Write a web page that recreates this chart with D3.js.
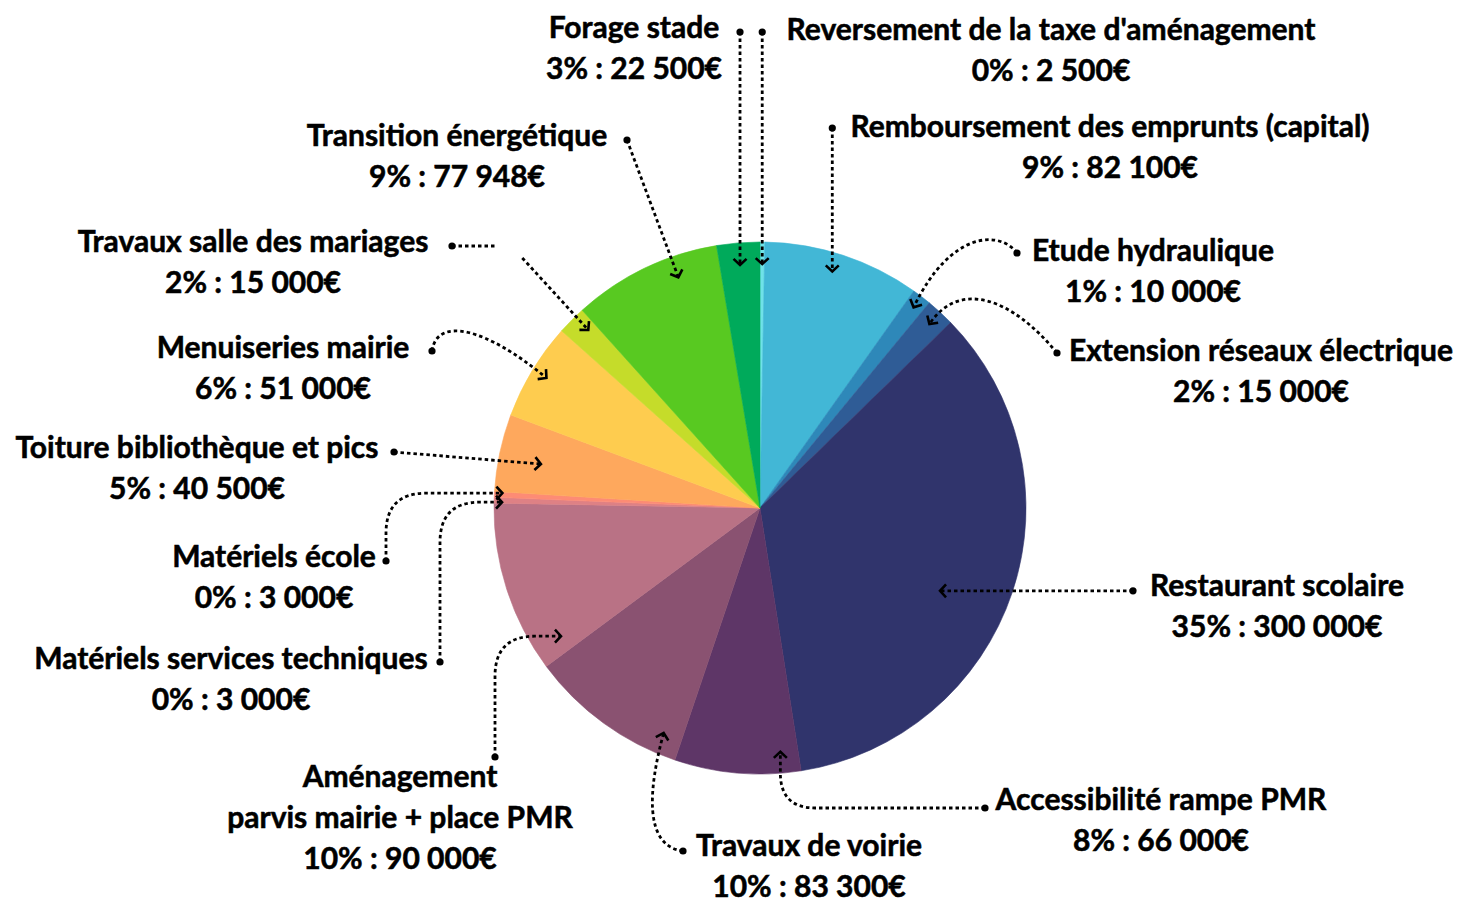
<!DOCTYPE html>
<html>
<head>
<meta charset="utf-8">
<script src="https://cdn.jsdelivr.net/npm/d3@7"></script>
<style>
  body { margin: 0; background: #fff; }
  text { font-family: Lato, "Open Sans", sans-serif; font-weight: 700; font-size: 30px; fill: #000; stroke: #000; stroke-width: 0.55px; }
</style>
</head>
<body>
<div id="chart"></div>
<script>
// budget lines, clockwise from 12 o'clock
const names = [
  "Reversement de la taxe d'aménagement",
  "Remboursement des emprunts (capital)",
  "Etude hydraulique",
  "Extension réseaux électrique",
  "Restaurant scolaire",
  "Accessibilité rampe PMR",
  "Travaux de voirie",
  "Aménagement\nparvis mairie + place PMR",
  "Matériels services techniques",
  "Matériels école",
  "Toiture bibliothèque et pics",
  "Menuiseries mairie",
  "Travaux salle des mariages",
  "Transition énergétique",
  "Forage stade"
]
const amounts = [2500, 82100, 10000, 15000, 300000, 66000, 83300, 90000, 3000, 3000, 40500, 51000, 15000, 77948, 22500]
const percents = ["0%", "9%", "1%", "2%", "35%", "8%", "10%", "10%", "0%", "0%", "5%", "6%", "2%", "9%", "3%"]
const colors = [
  "#6fe2e8", "#42b7d6", "#2e88b9", "#2f5c96", "#30346c", "#5e3667", "#8a5271", "#b97285",
  "#de8185", "#fd8b75", "#fea85d", "#fecc4f", "#c5dc2a", "#58c921", "#00aa5b"
]

const width = 1460, height = 902
const cx = 760, cy = 508, radius = 266
const lineGap = 41

// label anchor: centre x, first baseline
const labelPos = [
  [1051, 40], [1110, 137], [1153, 261], [1261, 361], [1277, 596], [1161, 810], [809, 856],
  [400, 787], [231, 669], [274, 567], [197, 458], [283, 358], [253, 252], [457, 146], [634, 38]
]

// leader lines: where the arrow lands inside the slice (frac of angle, frac of radius) and how it's drawn
const leaders = [
  { kind: "v", frac: 0.5, r: 0.917, dotY: 32 },
  { kind: "v", frac: 0.465, r: 0.93, dotY: 128 },
  { kind: "curve", frac: 0.5, r: 0.95, dot: [1017, 253], c1: [-17, -23], c2: [37, -77] },
  { kind: "curve", frac: 0.5, r: 0.94, dot: [1057, 353], c1: [-45, -55], c2: [30, -45] },
  { kind: "h", frac: 0.55, r: 0.745, dotX: 1133 },
  { kind: "hv", frac: 0.15, r: 0.92, dot: [985, 808], rad: 35 },
  { kind: "curve", frac: 0.13, r: 0.92, dot: [683, 851], c1: [-40, -5], c2: [-15, 55] },
  { kind: "vh", frac: 0.1, r: 0.89, dot: [495, 757], rad: 40 },
  { kind: "vh", frac: 0.2, r: 0.97, dot: [440, 662], rad: 40 },
  { kind: "vh", frac: 0.8, r: 0.97, dot: [386, 561], rad: 40 },
  { kind: "line", frac: 0.46, r: 0.84, dot: [394, 452] },
  { kind: "curve", frac: 0.51, r: 0.94, dot: [432, 351], c1: [5, -35], c2: [-60, -50] },
  { kind: "split", frac: 0.68, r: 0.93, dot: [452, 246], len: 45, from: [-66, -72] },
  { kind: "line", frac: 0.69, r: 0.92, dot: [627, 140] },
  { kind: "v", frac: 0.5, r: 0.917, dotY: 32 }
]

const fr = d3.formatLocale({ decimal: ",", thousands: " ", grouping: [3], currency: ["", "€"] })
const fmt = fr.format(",d")

const data = names.map((name, i) => ({ name, amount: amounts[i], pct: percents[i], color: colors[i] }))

const svg = d3.select("#chart").append("svg")
  .attr("width", width)
  .attr("height", height)

const pie = d3.pie().sort(null).value(d => d.amount)
const arc = d3.arc().innerRadius(0).outerRadius(radius)
const arcs = pie(data)

svg.append("g")
  .attr("transform", `translate(${cx},${cy})`)
  .selectAll("path")
  .data(arcs)
  .join("path")
  .attr("d", arc)
  .attr("fill", d => d.data.color)
  .attr("stroke", d => d.data.color)
  .attr("stroke-width", 0.6)

// open chevron arrowhead
svg.append("defs").append("marker")
  .attr("id", "chev")
  .attr("markerUnits", "userSpaceOnUse")
  .attr("viewBox", "-9 -9 12 18")
  .attr("markerWidth", 12)
  .attr("markerHeight", 18)
  .attr("refX", 0)
  .attr("refY", 0)
  .attr("orient", "auto")
  .append("path")
  .attr("d", "M-6,-6.5L0,0L-6,6.5")
  .attr("fill", "none")
  .attr("stroke", "#000")
  .attr("stroke-width", 2.6)

function tipOf(a, l) {
  const ang = a.startAngle + (a.endAngle - a.startAngle) * l.frac
  const r = radius * l.r
  return [cx + r * Math.sin(ang), cy - r * Math.cos(ang)]
}

function leaderPaths(a, l) {
  const t = tipOf(a, l)
  const p = d3.path()
  let dot
  if (l.kind === "v") {
    dot = [t[0], l.dotY]
    p.moveTo(dot[0], dot[1]); p.lineTo(t[0], t[1])
  } else if (l.kind === "h") {
    dot = [l.dotX, t[1]]
    p.moveTo(dot[0], dot[1]); p.lineTo(t[0], t[1])
  } else if (l.kind === "line") {
    dot = l.dot
    p.moveTo(dot[0], dot[1]); p.lineTo(t[0], t[1])
  } else if (l.kind === "curve") {
    dot = l.dot
    p.moveTo(dot[0], dot[1])
    p.bezierCurveTo(dot[0] + l.c1[0], dot[1] + l.c1[1], t[0] + l.c2[0], t[1] + l.c2[1], t[0], t[1])
  } else if (l.kind === "vh") {
    dot = l.dot
    p.moveTo(dot[0], dot[1])
    p.lineTo(dot[0], t[1] + l.rad)
    p.quadraticCurveTo(dot[0], t[1], dot[0] + l.rad, t[1])
    p.lineTo(t[0], t[1])
  } else if (l.kind === "hv") {
    dot = l.dot
    p.moveTo(dot[0], dot[1])
    p.lineTo(t[0] + l.rad, dot[1])
    p.quadraticCurveTo(t[0], dot[1], t[0], dot[1] - l.rad)
    p.lineTo(t[0], t[1])
  } else if (l.kind === "split") {
    dot = l.dot
    const stub = d3.path()
    stub.moveTo(dot[0], dot[1]); stub.lineTo(dot[0] + l.len, dot[1])
    p.moveTo(t[0] + l.from[0], t[1] + l.from[1]); p.lineTo(t[0], t[1])
    return { dot, main: p.toString(), stub: stub.toString() }
  }
  return { dot, main: p.toString(), stub: null }
}

const lead = svg.append("g")
arcs.forEach((a, i) => {
  const g = leaderPaths(a, leaders[i])
  lead.append("path")
    .attr("d", g.main)
    .attr("fill", "none")
    .attr("stroke", "#000")
    .attr("stroke-width", 2.8)
    .attr("stroke-dasharray", "3.5 3")
    .attr("marker-end", "url(#chev)")
  if (g.stub) {
    lead.append("path")
      .attr("d", g.stub)
      .attr("fill", "none")
      .attr("stroke", "#000")
      .attr("stroke-width", 2.8)
      .attr("stroke-dasharray", "3.5 3")
  }
  lead.append("circle")
    .attr("cx", g.dot[0])
    .attr("cy", g.dot[1])
    .attr("r", 3.6)
    .attr("fill", "#000")
})

const labels = svg.append("g")
  .selectAll("text")
  .data(arcs)
  .join("text")
  .attr("text-anchor", "middle")
  .attr("x", (d, i) => labelPos[i][0])
  .attr("y", (d, i) => labelPos[i][1])

labels.selectAll("tspan")
  .data(d => [...d.data.name.split("\n"), `${d.data.pct} : ${fmt(d.data.amount)}€`])
  .join("tspan")
  .attr("x", function () { return this.parentNode.getAttribute("x") })
  .attr("dy", (d, j) => j === 0 ? 0 : lineGap)
  .text(d => d)
</script>
</body>
</html>
